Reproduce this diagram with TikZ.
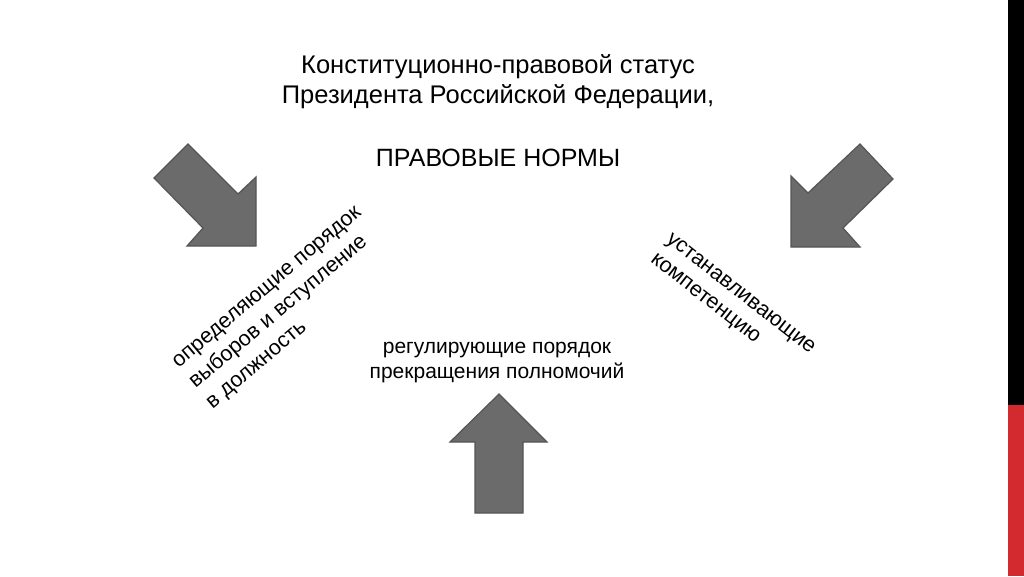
\documentclass[tikz,border=0pt]{standalone}
\usepackage{fontspec}
\setmainfont{Liberation Sans}
\usetikzlibrary{positioning}
\tikzset{blockarrow/.style = {fill=mgray, draw=mgrayedge, line width=1.2pt, line join=miter},
         label/.style = {inner sep=0pt, text=black}}
\definecolor{mgray}{HTML}{6B6B6B}
\definecolor{mgrayedge}{HTML}{555555}
\definecolor{mred}{HTML}{D22A2F}

\begin{document}
\begin{tikzpicture}[x=1pt, y=-1pt]
    \useasboundingbox [fill=white] (0, 0) rectangle (1024, 576);

    % side bar
    \fill [black] (1008, 0) rectangle (1024, 405);
    \fill [mred] (1008, 405) rectangle (1024, 576);

    \node [label, align=center, font=\fontsize{25.5}{30}\selectfont] (title) at (498, 82)
        {Конституционно-правовой статус\\Президента Российской Федерации,};
    \node [label, font=\fontsize{25}{28}\selectfont] (norms) at (498, 158) {ПРАВОВЫЕ НОРМЫ};

    % arrows
    \draw [blockarrow] (188, 144) -- (238, 194) -- (256, 177) -- (256, 246) -- (187, 246) -- (203, 228) -- (154, 178) -- cycle;
    \draw [blockarrow] (860, 144) -- (893, 179) -- (843, 228) -- (860, 247) -- (791, 247) -- (791, 176) -- (808, 193) -- cycle;
    \draw [blockarrow] (499, 394) -- (547, 442) -- (523, 442) -- (523, 513) -- (475, 513) -- (475, 442) -- (450, 442) -- cycle;

    \node [label, align=left, rotate=40, font=\fontsize{21.5}{26.5}\selectfont] (election) at (285, 309)
        {определяющие порядок\\выборов и вступление\\в должность};
    \node [label, align=left, rotate=-38, font=\fontsize{21.5}{25.5}\selectfont] (competence) at (732, 305)
        {устанавливающие\\компетенцию};
    \node [label, align=center, font=\fontsize{21}{25}\selectfont] (termination) at (497, 363)
        {регулирующие порядок\\прекращения полномочий};
\end{tikzpicture}
\end{document}
